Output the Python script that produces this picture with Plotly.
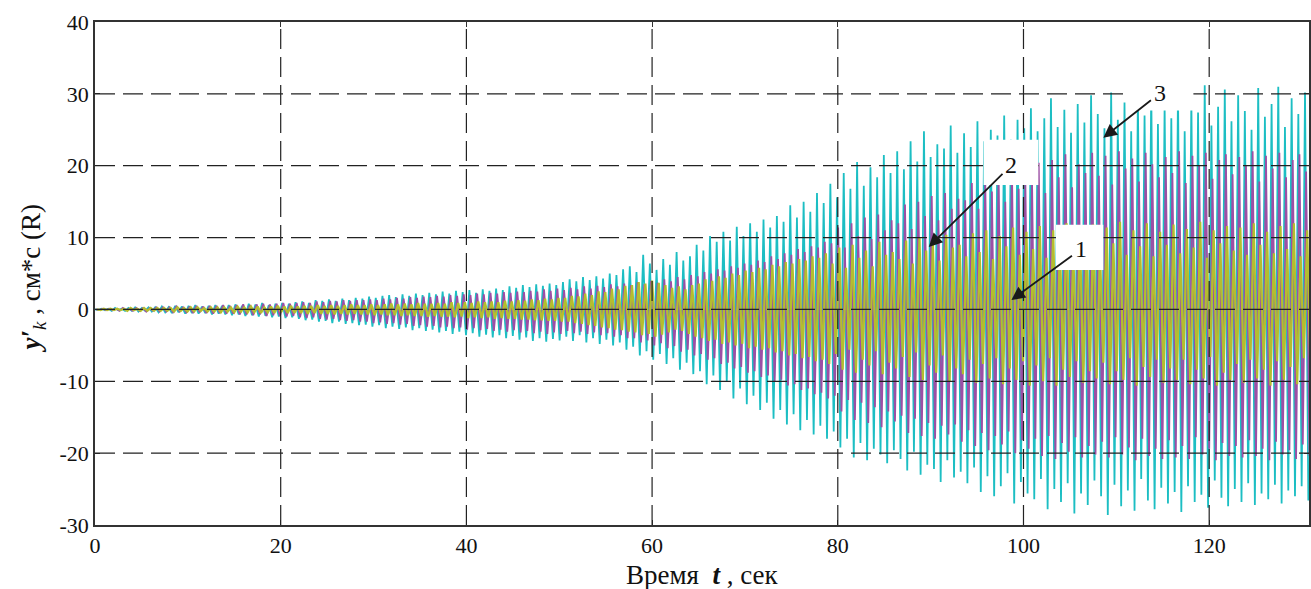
import numpy as np
import plotly.graph_objects as go

# ---------------- data ----------------
period = 0.72  # seconds between successive peaks (counted from the picture)

# series 3 (cyan): positive and negative peak values per cycle
s3_up = [0.0, 0.1, 0.1, 0.2, 0.1, 0.2, 0.3, 0.2, 0.3, 0.3,
         0.4, 0.3, 0.5, 0.4, 0.5, 0.6, 0.4, 0.5, 0.6, 0.5,
         0.6, 0.7, 0.5, 0.8, 0.7, 0.9, 0.6, 0.8, 0.9, 0.8,
         1.0, 1.1, 0.9, 1.3, 1.2, 1.4, 1.2, 1.5, 1.3, 1.6,
         1.5, 1.8, 1.6, 1.9, 2.0, 1.7, 2.1, 1.9, 2.2, 2.0,
         2.3, 2.1, 2.5, 2.2, 2.6, 2.4, 2.7, 2.3, 2.8, 2.6,
         2.9, 2.7, 3.2, 3.0, 3.4, 3.1, 3.5, 3.3, 3.6, 3.4,
         3.8, 4.2, 3.9, 4.5, 4.1, 4.6, 4.3, 5.0, 4.8, 5.6,
         6.0, 5.2, 7.6, 6.4, 5.5, 7.0, 6.2, 8.0, 6.8, 7.4,
         9.0, 8.2, 10.2, 9.4, 10.8, 9.6, 11.5, 10.2, 12.0, 10.8,
         12.5, 11.4, 13.0, 12.2, 14.5, 12.8, 15.0, 13.6, 16.2, 14.8,
         17.5, 15.6, 19.0, 16.8, 20.5, 17.2, 19.8, 18.4, 21.5, 19.0,
         22.0, 19.5, 23.4, 20.6, 24.8, 21.2, 23.0, 22.4, 25.6, 21.8,
         24.5, 22.6, 26.2, 23.4, 25.0, 24.2, 27.0, 23.6, 26.4, 25.2,
         28.0, 24.8, 26.6, 29.4, 25.4, 27.8, 24.6, 28.6, 26.0, 29.8,
         27.2, 25.2, 30.2, 26.4, 28.8, 24.8, 29.6, 27.0, 31.0, 25.8,
         28.4, 26.6, 30.4, 24.8, 29.2, 27.4, 31.2, 25.6, 28.2, 30.6,
         26.2, 29.8, 27.6, 25.0, 30.8, 26.8, 28.6, 31.0, 25.4, 29.4, 27.2, 30.2]
s3_dn = [-0.1, -0.1, -0.2, -0.1, -0.2, -0.2, -0.3, -0.2, -0.3, -0.4,
         -0.4, -0.5, -0.4, -0.6, -0.5, -0.6, -0.5, -0.7, -0.6, -0.7,
         -0.8, -0.7, -0.9, -0.8, -1.0, -0.9, -1.1, -1.0, -1.2, -1.1,
         -1.3, -1.5, -1.4, -1.7, -1.6, -1.9, -1.7, -2.0, -1.9, -2.2,
         -2.1, -2.4, -2.2, -2.6, -2.4, -2.7, -2.5, -2.9, -2.6, -3.0,
         -2.8, -3.2, -3.0, -3.4, -3.1, -3.6, -3.3, -3.8, -3.5, -3.9,
         -3.6, -4.0, -3.7, -4.2, -3.9, -4.4, -4.0, -4.5, -4.1, -4.3,
         -3.8, -4.4, -3.6, -4.6, -4.0, -4.8, -4.2, -5.0, -4.6, -5.6,
         -5.2, -6.4, -5.8, -7.0, -6.2, -7.6, -6.8, -8.4, -7.4, -9.0,
         -8.6, -10.4, -9.2, -11.2, -10.0, -12.4, -11.0, -13.2, -12.0, -14.0,
         -13.0, -15.2, -14.0, -16.0, -14.6, -16.8, -15.4, -17.4, -16.2, -18.0,
         -17.0, -19.2, -18.0, -20.6, -18.6, -21.0, -19.4, -20.2, -21.4, -19.6,
         -20.8, -22.4, -19.8, -23.0, -21.6, -22.2, -24.0, -21.0, -23.4, -22.6,
         -24.2, -22.0, -25.4, -23.2, -26.0, -24.6, -22.8, -27.0, -24.0, -25.6,
         -26.4, -23.6, -27.8, -25.0, -26.8, -24.2, -28.4, -25.6, -27.2, -23.8,
         -26.0, -28.6, -24.4, -27.4, -25.2, -28.0, -23.6, -26.6, -27.8, -24.8,
         -27.0, -25.4, -28.2, -24.6, -26.8, -25.8, -27.6, -23.8, -26.2, -27.4,
         -25.0, -26.8, -24.2, -27.2, -25.6, -26.4, -24.4, -27.0, -25.2, -26.0, -24.6, -26.6]

# series 2 (magenta)
s2_up = [0.0, 0.1, 0.1, 0.1, 0.2, 0.1, 0.2, 0.2, 0.2, 0.3,
         0.3, 0.3, 0.4, 0.3, 0.4, 0.5, 0.4, 0.5, 0.5, 0.6,
         0.5, 0.6, 0.7, 0.6, 0.7, 0.8, 0.7, 0.8, 0.9, 0.8,
         0.9, 1.0, 0.9, 1.1, 1.0, 1.2, 1.1, 1.3, 1.2, 1.3,
         1.3, 1.4, 1.3, 1.5, 1.4, 1.6, 1.5, 1.7, 1.6, 1.8,
         1.7, 1.9, 1.8, 2.0, 1.9, 2.1, 2.0, 2.2, 2.1, 2.3,
         2.2, 2.4, 2.3, 2.5, 2.4, 2.6, 2.5, 2.8, 2.6, 2.9,
         2.7, 3.0, 2.8, 3.2, 2.9, 3.3, 3.1, 3.5, 3.2, 3.6,
         3.4, 3.8, 3.5, 4.0, 3.7, 4.2, 3.9, 4.5, 4.2, 4.8,
         4.6, 5.2, 5.0, 5.6, 5.4, 6.0, 5.8, 6.4, 6.2, 6.8,
         6.6, 7.4, 7.0, 7.8, 7.6, 8.4, 8.0, 8.8, 8.6, 9.4,
         9.2, 11.4, 8.6, 12.0, 10.2, 12.8, 9.8, 13.2, 11.0, 12.4,
         12.0, 14.6, 11.2, 15.0, 13.0, 15.8, 12.4, 16.2, 14.0, 15.4,
         15.2, 17.6, 14.0, 18.2, 16.4, 18.8, 15.0, 19.4, 16.8, 18.0,
         17.8, 20.4, 16.2, 20.8, 18.4, 21.6, 17.0, 20.2, 19.0, 21.8,
         18.6, 21.4, 17.4, 22.0, 19.6, 21.0, 17.8, 21.8, 20.2, 18.4,
         21.2, 19.0, 22.0, 17.6, 21.4, 20.0, 21.8, 18.2, 20.8, 21.6,
         18.8, 21.2, 20.0, 22.0, 17.8, 21.4, 19.6, 21.8, 18.4, 20.8, 21.6, 19.2]
s2_dn = [-0.1, -0.1, -0.1, -0.2, -0.1, -0.2, -0.2, -0.3, -0.2, -0.3,
         -0.3, -0.4, -0.3, -0.4, -0.5, -0.4, -0.5, -0.6, -0.5, -0.6,
         -0.6, -0.7, -0.7, -0.8, -0.7, -0.9, -0.8, -0.9, -1.0, -0.9,
         -1.1, -1.2, -1.1, -1.3, -1.4, -1.3, -1.5, -1.6, -1.5, -1.7,
         -1.7, -1.9, -1.8, -2.0, -1.9, -2.1, -2.0, -2.3, -2.2, -2.4,
         -2.3, -2.5, -2.4, -2.6, -2.5, -2.8, -2.6, -2.9, -2.7, -3.0,
         -2.8, -3.1, -2.9, -3.2, -3.0, -3.3, -3.1, -3.4, -3.2, -3.4,
         -3.0, -3.3, -3.1, -3.4, -3.2, -3.6, -3.3, -3.8, -3.6, -4.0,
         -4.0, -4.6, -4.3, -5.0, -4.7, -5.4, -5.1, -5.9, -5.6, -6.4,
         -6.2, -7.0, -6.8, -7.6, -7.4, -8.2, -8.0, -8.8, -8.6, -9.4,
         -9.2, -10.0, -9.8, -10.6, -10.4, -11.2, -11.0, -11.8, -11.6, -12.4,
         -12.0, -14.2, -12.6, -15.4, -13.0, -15.8, -13.6, -16.4, -14.2, -15.6,
         -14.8, -17.2, -15.2, -17.6, -15.8, -18.0, -16.2, -17.4, -16.0, -18.4,
         -16.8, -19.0, -17.2, -19.6, -17.6, -18.8, -17.0, -20.0, -18.2, -19.4,
         -18.0, -20.4, -17.6, -20.8, -18.6, -19.8, -17.8, -20.6, -19.0, -20.2,
         -18.4, -20.6, -17.8, -20.2, -19.2, -21.0, -18.0, -20.4, -19.4, -20.8,
         -18.2, -20.6, -19.0, -20.8, -17.8, -20.2, -19.4, -21.0, -18.6, -20.4,
         -19.0, -20.6, -18.2, -20.4, -19.4, -21.0, -18.4, -20.2, -19.6, -20.8, -18.8, -20.4]

# series 1 (yellow)
s1_up = [0.0, 0.1, 0.1, 0.1, 0.1, 0.2, 0.1, 0.2, 0.2, 0.2,
         0.2, 0.2, 0.3, 0.2, 0.3, 0.3, 0.2, 0.3, 0.3, 0.3,
         0.3, 0.4, 0.3, 0.4, 0.4, 0.3, 0.4, 0.5, 0.4, 0.5,
         0.4, 0.5, 0.5, 0.6, 0.5, 0.6, 0.5, 0.6, 0.7, 0.6,
         0.6, 0.7, 0.6, 0.7, 0.8, 0.7, 0.8, 0.7, 0.9, 0.8,
         0.8, 0.9, 0.8, 1.0, 0.9, 1.0, 0.9, 1.1, 1.0, 1.1,
         1.0, 1.2, 1.1, 1.3, 1.2, 1.4, 1.3, 1.5, 1.4, 1.6,
         1.6, 1.9, 1.8, 2.2, 2.0, 2.5, 2.4, 2.9, 2.8, 3.3,
         3.4, 3.8, 3.6, 4.0, 3.7, 3.4, 3.0, 3.2, 2.8, 3.4,
         3.6, 4.2, 4.0, 4.6, 4.4, 5.0, 4.8, 5.4, 5.2, 5.8,
         5.6, 6.2, 6.0, 6.6, 6.4, 7.0, 6.8, 7.4, 7.2, 7.8,
         6.4, 8.6, 5.8, 9.0, 7.2, 8.2, 6.0, 9.4, 7.6, 8.0,
         7.0, 9.6, 6.4, 10.0, 8.2, 9.2, 6.8, 10.4, 8.6, 9.0,
         7.4, 10.6, 8.0, 11.0, 7.0, 10.2, 8.8, 11.4, 7.6, 10.8,
         8.4, 11.6, 7.2, 11.0, 9.0, 12.0, 7.8, 10.6, 9.4, 11.8,
         8.0, 11.4, 9.2, 12.2, 7.6, 11.0, 8.8, 12.0, 7.4, 10.8,
         9.0, 11.8, 7.8, 11.2, 8.6, 12.2, 7.2, 11.0, 9.2, 11.6,
         8.2, 11.4, 7.6, 12.0, 9.0, 10.8, 7.8, 11.6, 8.4, 12.0, 7.4, 11.0]
s1_dn = [-0.1, -0.1, -0.1, -0.1, -0.2, -0.1, -0.2, -0.2, -0.2, -0.2,
         -0.2, -0.3, -0.2, -0.3, -0.3, -0.2, -0.3, -0.3, -0.4, -0.3,
         -0.4, -0.3, -0.4, -0.4, -0.5, -0.4, -0.5, -0.4, -0.5, -0.5,
         -0.5, -0.6, -0.5, -0.6, -0.6, -0.7, -0.6, -0.7, -0.6, -0.7,
         -0.7, -0.8, -0.7, -0.8, -0.8, -0.9, -0.8, -0.9, -0.9, -1.0,
         -0.9, -1.0, -1.0, -1.1, -1.0, -1.2, -1.1, -1.2, -1.1, -1.3,
         -1.2, -1.3, -1.3, -1.4, -1.4, -1.5, -1.5, -1.6, -1.6, -1.7,
         -1.7, -1.9, -2.0, -2.2, -2.3, -2.5, -2.6, -2.8, -2.9, -3.1,
         -3.2, -3.6, -3.4, -3.8, -3.5, -3.2, -2.8, -3.0, -3.4, -3.8,
         -4.0, -4.4, -4.2, -4.8, -4.6, -5.0, -4.8, -5.4, -5.2, -5.6,
         -5.4, -6.0, -5.8, -6.4, -6.2, -6.8, -6.6, -7.2, -7.0, -7.6,
         -6.2, -8.4, -5.6, -8.8, -7.0, -7.8, -5.8, -9.0, -7.4, -8.2,
         -6.6, -9.4, -6.0, -9.8, -7.8, -8.8, -6.4, -10.0, -8.2, -9.0,
         -7.0, -10.2, -7.6, -9.6, -6.8, -10.4, -8.2, -9.8, -7.2, -10.6,
         -7.8, -10.0, -6.8, -10.6, -8.4, -9.4, -7.2, -10.2, -8.6, -9.6,
         -7.4, -10.4, -8.6, -9.8, -6.8, -10.6, -8.0, -9.4, -7.0, -10.2,
         -8.2, -9.8, -7.0, -10.4, -8.4, -9.6, -6.6, -10.6, -8.8, -9.8,
         -7.6, -10.2, -7.0, -9.6, -8.4, -10.6, -7.2, -9.8, -8.0, -10.4, -6.8, -10.0]

x_ticks = [0, 20, 40, 60, 80, 100, 120]
y_ticks = [-30, -20, -10, 0, 10, 20, 30, 40]
y_tick_text = ["-30", "-20", "-10", "0", "10", "20", "30", "40"]
x_range = [0, 130.75]
y_range = [-30, 40]

series = [  # drawn in this order (3 underneath, 1 on top)
    dict(name="3", up=s3_up, dn=s3_dn, phase=0.0, color="#1CBEC3", width=1.8),
    dict(name="2", up=s2_up, dn=s2_dn, phase=0.12, color="#9C4FA5", width=1.8),
    dict(name="1", up=s1_up, dn=s1_dn, phase=0.24, color="#B4BD2E", width=2.2),
]

# labelled arrows: label, label position (x, y), arrow head (x, y), white box (x0, x1, y0, y1)
labels = [
    ("3", 114.7, 30.1, 108.6, 23.9, 111.3, 118.3, 27.7, 32.6),
    ("2", 98.7, 20.1, 89.8, 8.7, 95.7, 101.6, 17.3, 23.6),
    ("1", 106.2, 8.4, 98.7, 1.3, 103.5, 108.6, 5.5, 11.8),
]

# ---------------- figure ----------------
fig = go.Figure()
for s in series:
    n = len(s["up"])
    t0 = np.arange(n) * period + s["phase"]
    t = np.empty(2 * n)
    v = np.empty(2 * n)
    t[0::2] = t0
    t[1::2] = t0 + period / 2
    v[0::2] = s["up"]
    v[1::2] = s["dn"]
    fig.add_trace(go.Scatter(x=t, y=v, mode="lines", name=s["name"],
                             line=dict(color=s["color"], width=s["width"]),
                             showlegend=False, hoverinfo="skip"))

grid_style = dict(color="#222222", width=1.2, dash="20px,8px")
shapes = []
for xv in x_ticks[1:]:
    shapes.append(dict(type="line", xref="x", yref="y", x0=xv, x1=xv,
                       y0=y_range[0], y1=y_range[1], line=grid_style, layer="above"))
for yv in y_ticks[1:-1]:
    shapes.append(dict(type="line", xref="x", yref="y", x0=x_range[0], x1=x_range[1],
                       y0=yv, y1=yv, line=grid_style, layer="above"))

serif = "Liberation Serif, Times New Roman, serif"
annotations = []
for lab, lx, ly, hx, hy, bx0, bx1, by0, by1 in labels:
    shapes.append(dict(type="rect", xref="x", yref="y", x0=bx0, x1=bx1, y0=by0, y1=by1,
                       fillcolor="white", line=dict(width=0), layer="above"))
    annotations.append(dict(x=hx, y=hy, ax=lx, ay=ly, xref="x", yref="y",
                            axref="x", ayref="y", text=lab, showarrow=True,
                            arrowhead=2, arrowsize=1.5, arrowwidth=1.8,
                            arrowcolor="#1a1a1a", standoff=0, startstandoff=2,
                            font=dict(family=serif, size=24, color="#111")))

annotations.append(dict(text="Время  <b><i>t</i></b> , сек", xref="paper", yref="paper",
                        x=0.5, y=0, yshift=-50, xanchor="center", yanchor="middle",
                        showarrow=False, font=dict(family=serif, size=27, color="#111")))
annotations.append(dict(text="<b><i>y′</i></b><sub><i>k</i></sub> , см*с (R)",
                        xref="paper", yref="paper", x=0, y=0.49, xshift=-62,
                        xanchor="center", yanchor="middle", textangle=-90,
                        showarrow=False, font=dict(family=serif, size=27, color="#111")))

axis_common = dict(showgrid=False, zeroline=False, showline=True, linecolor="#333",
                   linewidth=1.5, ticks="inside", ticklen=5, tickcolor="#333",
                   mirror="ticks", tickfont=dict(family=serif, size=22, color="#111"))

fig.update_layout(
    width=1311, height=589,
    margin=dict(l=95, r=0, t=22, b=64),
    paper_bgcolor="white", plot_bgcolor="white",
    xaxis=dict(range=x_range, tickvals=x_ticks, **axis_common),
    yaxis=dict(range=y_range, tickvals=y_ticks, ticktext=y_tick_text, **axis_common),
    shapes=shapes, annotations=annotations,
)

fig.write_html("out.html")
